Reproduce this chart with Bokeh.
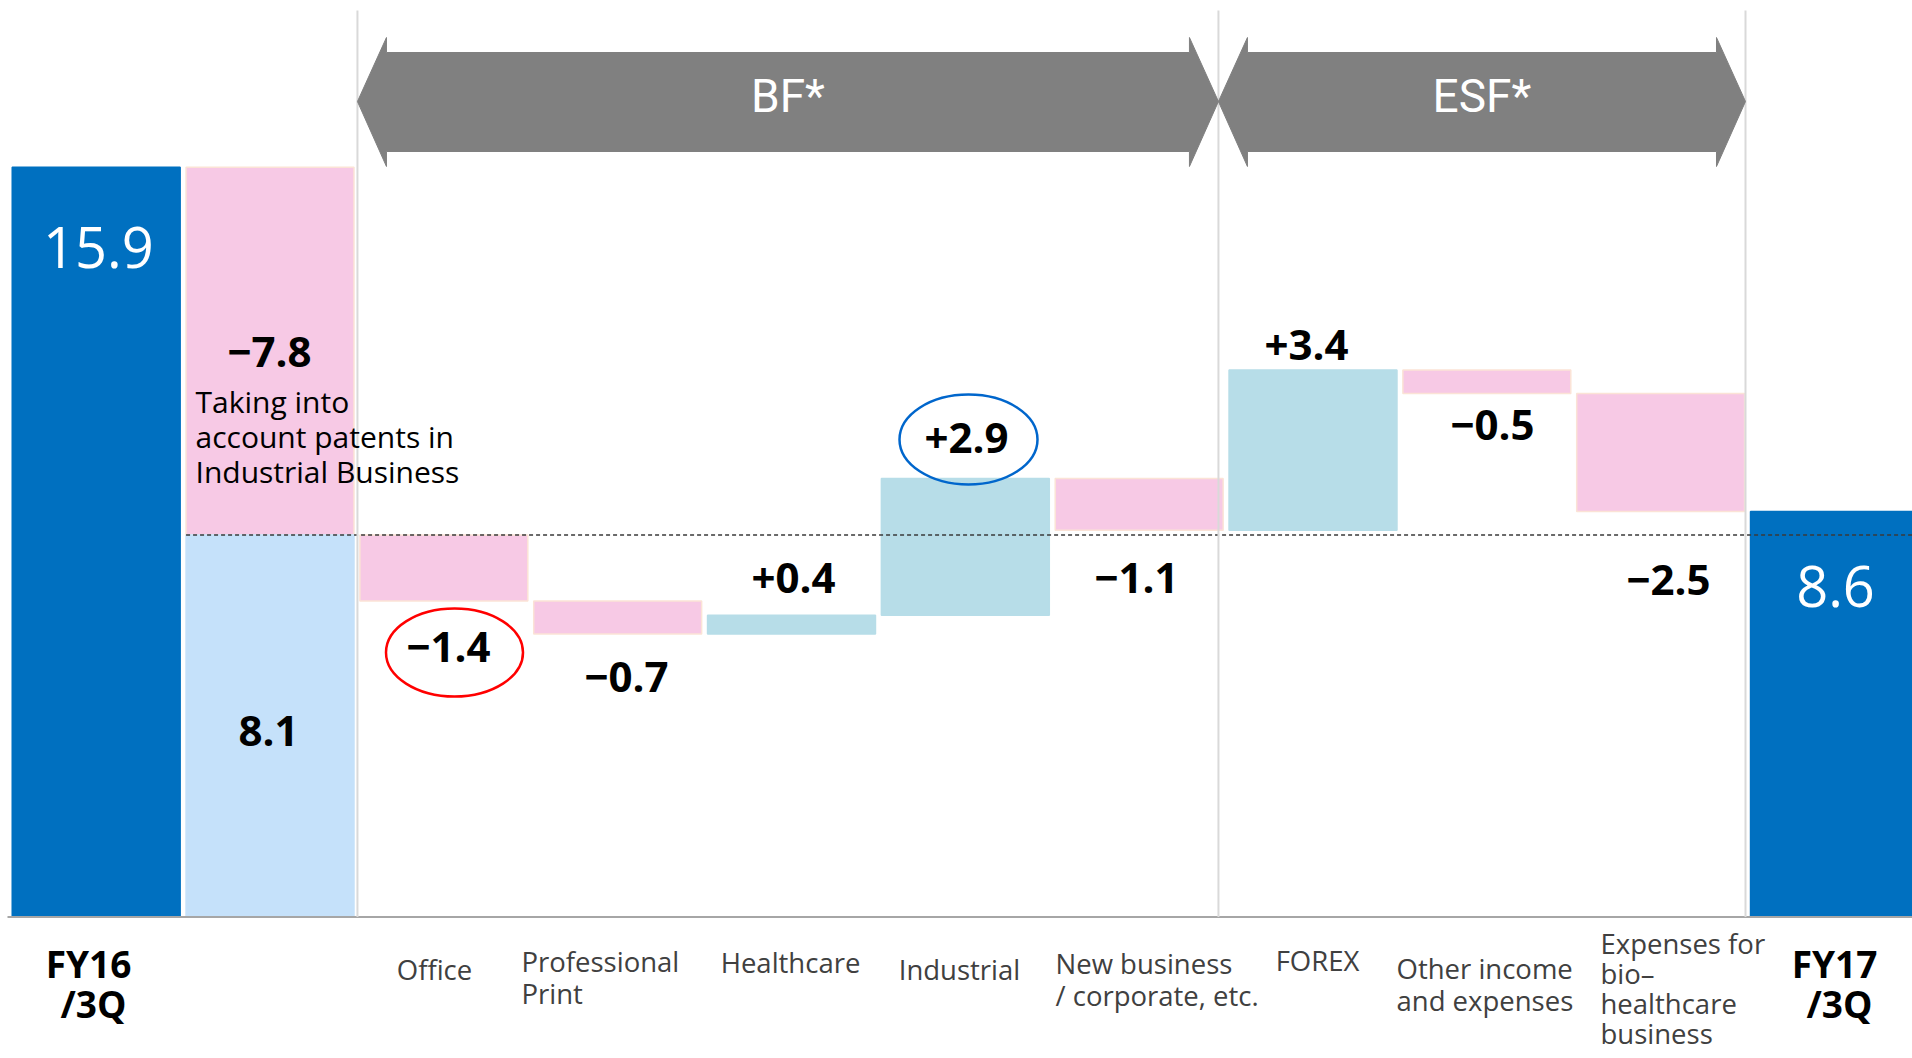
from bokeh.plotting import figure
from bokeh.models import Range1d, ColumnDataSource
from bokeh.core.properties import value
from bokeh.embed import file_html
from bokeh.resources import INLINE

# ---------------- data ----------------
start_label = "FY16\n/3Q"
end_label = "FY17\n/3Q"
start_total = 15.9
patent_effect = -7.8
patent_note = "Taking into\naccount patents in\nIndustrial Business"
change_categories = ["Office", "Professional\nPrint", "Healthcare", "Industrial",
                     "New business\n/ corporate, etc.", "FOREX",
                     "Other income\nand expenses", "Expenses for\nbio\u2013\nhealthcare\nbusiness"]
change_values = [-1.4, -0.7, 0.4, 2.9, -1.1, 3.4, -0.5, -2.5]
end_total = 8.6
group_names = ["BF*", "ESF*"]

# ---------------- layout helpers ----------------
W, H = 1912, 1058
PX_PER_X = 173.83
PX_PER_Y = 47.16
BASE_PAGE_Y = 916.5
X0 = -0.5505          # data x at page x = 0


def X(px):
    return X0 + px / PX_PER_X


def Y(py):
    return (BASE_PAGE_Y - py) / PX_PER_Y


def TY(py, fs, k=0.37):
    # baseline correction for SVG text placement
    return Y(py - k * fs)


def fmt(v):
    return ("+" if v > 0 else "\u2212") + f"{abs(v):.1f}"


DARK_BLUE = "#0070C0"
LIGHT_BLUE = "#C5E1FA"
PINK = "#F7C9E5"
PINK_EDGE = "#FBE3D6"
AQUA = "#B7DDE8"
GREY = "#808080"
FONT = value("Open Sans")

p = figure(width=W, height=H, output_backend="svg", toolbar_location=None,
           x_range=Range1d(X0, X0 + W / PX_PER_X),
           y_range=Range1d(Y(H), Y(0)),
           x_axis_type=None, y_axis_type=None, min_border=0)
p.xgrid.visible = False
p.ygrid.visible = False
p.outline_line_color = None
p.background_fill_color = "white"

# ---------------- bars ----------------
base_level = start_total + patent_effect
xs, tops, bottoms, fills, edges = [], [], [], [], []
xs.append(0); bottoms.append(0); tops.append(start_total); fills.append(DARK_BLUE); edges.append(DARK_BLUE)
xs.append(1); bottoms.append(base_level); tops.append(start_total); fills.append(PINK); edges.append(PINK_EDGE)
xs.append(1); bottoms.append(0); tops.append(base_level); fills.append(LIGHT_BLUE); edges.append(LIGHT_BLUE)
level = base_level
for i, v in enumerate(change_values):
    new = level + v
    xs.append(2 + i)
    bottoms.append(min(level, new))
    tops.append(max(level, new))
    fills.append(AQUA if v > 0 else PINK)
    edges.append(AQUA if v > 0 else PINK_EDGE)
    level = new
end_x = 2 + len(change_values)
xs.append(end_x); bottoms.append(0); tops.append(end_total); fills.append(DARK_BLUE); edges.append(DARK_BLUE)

src = ColumnDataSource(dict(x=xs, top=tops, bottom=bottoms, fill=fills, edge=edges))
p.vbar(x="x", top="top", bottom="bottom", width=0.966, fill_color="fill",
       line_color="edge", line_width=1.5, source=src)

# baseline (axis line)
p.segment(x0=[X(7)], x1=[X(W)], y0=[0], y1=[0], line_color="#A6A6A6", line_width=2)

# dotted reference line at the post-patent level
p.segment(x0=[1 - 0.483], x1=[end_x + 1], y0=[base_level], y1=[base_level],
          line_color="#3A3A3A", line_width=1.6, line_dash="4 3")

# group divider lines
dividers = [1.503, 6.456, 9.488]
p.segment(x0=dividers, x1=dividers, y0=[0] * 3, y1=[Y(10)] * 3,
          line_color="#D9D9D9", line_width=2)

# ---------------- group arrows ----------------
spans = [(1.503, 6.456), (6.456, 9.488)]
head = 29 / PX_PER_X
for (xl, xr), name in zip(spans, group_names):
    ax = [xl, xl + head, xl + head, xr - head, xr - head, xr, xr - head, xr - head, xl + head, xl + head]
    ay = [Y(101), Y(37), Y(52), Y(52), Y(37), Y(101), Y(166), Y(151), Y(151), Y(166)]
    p.patch(ax, ay, fill_color=GREY, line_color=GREY, line_width=1)
    p.text(x=[(xl + xr) / 2], y=[TY(115, 46, 0.42)], text=[name], text_font=value("Roboto"),
           text_font_size="46px", text_color="white", text_align="center",
           text_baseline="alphabetic")

# ---------------- value labels ----------------
# totals (white)
p.text(x=[X(97.8), X(1835)], y=[TY(268, 56), TY(607, 56)],
       text=[f"{start_total:.1f}", f"{end_total:.1f}"], text_font=FONT,
       text_font_size="56px", text_color="white", text_align="center",
       text_baseline="alphabetic")

# bold change labels
lab_px = [(269, 367), (268, 746),
          (448, 662), (626, 692), (793, 593), (966, 453), (1136, 593),
          (1306, 360), (1492, 440), (1668, 595)]
lab_text = [fmt(patent_effect), f"{base_level:.1f}"] + [fmt(v) for v in change_values]
p.text(x=[X(a) for a, b in lab_px], y=[TY(b, 42) for a, b in lab_px], text=lab_text,
       text_font=FONT, text_font_size="42px", text_font_style="bold",
       text_color="black", text_align="center", text_baseline="alphabetic")

# note
for k, line in enumerate(patent_note.split("\n")):
    p.text(x=[X(195)], y=[TY(412 + 35 * k, 30)], text=[line], text_font=FONT,
           text_font_size="30px", text_color="black", text_align="left",
           text_baseline="alphabetic")

# circles around Office and Industrial
p.ellipse(x=[X(454)], y=[Y(652)], width=137, height=88, width_units="screen",
          height_units="screen", fill_color=None, line_color="#FF0000", line_width=2.5)
p.ellipse(x=[X(968)], y=[Y(439)], width=138, height=90, width_units="screen",
          height_units="screen", fill_color=None, line_color="#0066CC", line_width=2.5)

# ---------------- category labels ----------------
CFS = 27.5
# (anchor x page, first baseline page, align, line spacing)
cat_pos = [(434, 979, "center", 32), (521, 971, "left", 32), (790, 972, "center", 32),
           (959, 979, "center", 32), (1055, 973, "left", 32), (1317, 970, "center", 32),
           (1396, 978, "left", 32), (1600, 953, "left", 30)]
for cat, (ax_, by, al, ls) in zip(change_categories, cat_pos):
    for k, line in enumerate(cat.split("\n")):
        p.text(x=[X(ax_)], y=[TY(by + ls * k, CFS)], text=[line], text_font=FONT,
               text_font_size=f"{CFS}px", text_color="#404040", text_align=al,
               text_baseline="alphabetic")

for lab, cxs in [(start_label, (88, 93)), (end_label, (1834, 1839))]:
    for k, line in enumerate(lab.split("\n")):
        p.text(x=[X(cxs[k])], y=[TY(977 + 40 * k, 37)], text=[line], text_font=FONT,
               text_font_size="37px", text_font_style="bold", text_color="black",
               text_align="center", text_baseline="alphabetic")

open("out.html", "w").write(file_html(p, INLINE))
